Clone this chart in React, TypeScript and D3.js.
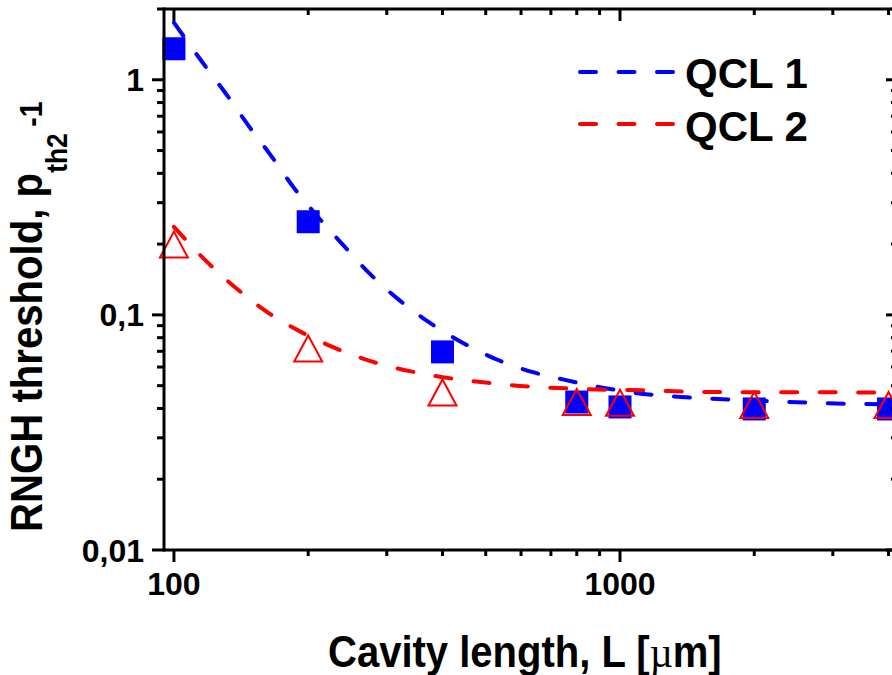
import React from "react";
import * as d3 from "d3";

// Measured points: cavity length L [µm] and RNGH threshold
const cavityLength = [100, 200, 400, 800, 1000, 2000, 4000];
const qcl1Threshold = [1.355, 0.249, 0.0696, 0.0426, 0.0406, 0.0398, 0.0398];
const qcl2Threshold = [0.199, 0.072, 0.0468, 0.0426, 0.0423, 0.0414, 0.0414];

// Fitted curves (dashed)
const qcl1FitL = [100, 115.6, 130.8, 146.5, 165.8, 185.8, 210.3, 240.5, 275.1, 319.6, 375, 444.6, 532.7, 634.8, 752.9, 920.6, 1080, 1315, 1575, 2284, 3451, 4000];
const qcl1FitV = [1.75, 1.193, 0.872, 0.643, 0.47, 0.347, 0.261, 0.1966, 0.1494, 0.1158, 0.0925, 0.076, 0.0643, 0.0572, 0.0529, 0.0489, 0.0466, 0.045, 0.0441, 0.0428, 0.0418, 0.0417];
const qcl2FitL = [100, 118, 137.7, 161.6, 191.6, 230.8, 279.4, 340, 417.9, 505.8, 621.9, 756.6, 925.5, 1132, 1511, 4000];
const qcl2FitV = [0.237, 0.1697, 0.1302, 0.103, 0.0851, 0.072, 0.0631, 0.0575, 0.0537, 0.0514, 0.0496, 0.0487, 0.048, 0.0478, 0.047, 0.0468];

const xDomain = [95, 4200];
const yDomain = [0.01, 2];
const xMajorLabels = ["100", "1000"];
const yMajorLabels = ["0,01", "0,1", "1"];
const seriesNames = ["QCL 1", "QCL 2"];

const W = 892;
const H = 675;
const left = 164;
const right = 898;
const top = 9;
const bottom = 550;

const BLUE = "#0000ff";
const RED = "#ff0000";
const FONT = "'Liberation Sans', Arial, Helvetica, sans-serif";
const DASH = "16 22.5";

export default function App() {
  const x = d3.scaleLog().domain(xDomain).range([left, right]);
  const y = d3.scaleLog().domain(yDomain).range([bottom, top]);

  const isMajor = (v: number) => Math.abs(Math.log10(v) - Math.round(Math.log10(v))) < 1e-9;
  const xTicks = x.ticks();
  const yTicks = y.ticks();
  const xMajor = xTicks.filter(isMajor);
  const yMajor = yTicks.filter(isMajor);

  const line = d3
    .line<[number, number]>()
    .x((d) => x(d[0]))
    .y((d) => y(d[1]))
    .curve(d3.curveMonotoneX);

  const fit1 = line(qcl1FitL.map((l, i) => [l, qcl1FitV[i]] as [number, number])) || "";
  const fit2 = line(qcl2FitL.map((l, i) => [l, qcl2FitV[i]] as [number, number])) || "";

  const sq = 23;
  const triW = 28;
  const triH = 26;
  const axisW = 3;

  return (
    <svg
      width={W}
      height={H}
      viewBox={`0 0 ${W} ${H}`}
      style={{ position: "absolute", left: 0, top: 0, background: "#fff" }}
      fontFamily={FONT}
    >
      <rect x={0} y={0} width={W} height={H} fill="#fff" />

      {/* QCL 1 measured points */}
      {cavityLength.map((l, i) => (
        <rect
          key={`s${i}`}
          x={x(l) - sq / 2}
          y={y(qcl1Threshold[i]) - sq / 2}
          width={sq}
          height={sq}
          fill={BLUE}
        />
      ))}
      <path d={fit1} fill="none" stroke={BLUE} strokeWidth={4} strokeDasharray={DASH} strokeLinecap="round" />

      {/* QCL 2 measured points */}
      {cavityLength.map((l, i) => {
        const cx = x(l);
        const cy = y(qcl2Threshold[i]);
        const pts = `${cx},${cy - triH / 2} ${cx + triW / 2},${cy + triH / 2} ${cx - triW / 2},${cy + triH / 2}`;
        return <polygon key={`t${i}`} points={pts} fill="none" stroke={RED} strokeWidth={2} strokeLinejoin="miter" />;
      })}
      <path d={fit2} fill="none" stroke={RED} strokeWidth={4} strokeDasharray={DASH} strokeLinecap="round" />

      {/* Frame */}
      <g stroke="#000" strokeWidth={axisW} fill="none">
        <line x1={left} x2={right} y1={top} y2={top} />
        <line x1={left} x2={right} y1={bottom} y2={bottom} />
        <line x1={left} x2={left} y1={top - 1.5} y2={bottom + 1.5} />
        <line x1={right} x2={right} y1={top - 1.5} y2={bottom + 1.5} />
      </g>

      {/* X ticks: outward at bottom, inward at top; Y ticks: outward at left, inward at right */}
      <g stroke="#000" strokeWidth={3}>
        {xTicks.map((t, i) => {
          const len = isMajor(t) ? 12 : 6;
          const px = x(t);
          return (
            <g key={`xt${i}`}>
              <line x1={px} x2={px} y1={bottom} y2={bottom + len} />
              <line x1={px} x2={px} y1={top} y2={top + len} />
            </g>
          );
        })}
        {yTicks.map((t, i) => {
          const len = isMajor(t) ? 12 : 7;
          const py = y(t);
          return (
            <g key={`yt${i}`}>
              <line x1={left - len} x2={left} y1={py} y2={py} />
              <line x1={right - len} x2={right} y1={py} y2={py} />
            </g>
          );
        })}
      </g>

      {/* Tick labels */}
      <g fontWeight="bold" fontSize={32} fill="#000">
        {xMajor.map((t, i) => (
          <text key={`xl${i}`} x={x(t)} y={595} textAnchor="middle">
            {xMajorLabels[i]}
          </text>
        ))}
        {yMajor.map((t, i) => (
          <text key={`yl${i}`} x={144} y={y(t)} dy="0.36em" textAnchor="end">
            {yMajorLabels[i]}
          </text>
        ))}
      </g>

      {/* Axis titles */}
      <text
        transform="translate(328,667) scale(0.91,1)"
        fontWeight="bold"
        fontSize={44}
        fill="#000"
      >
        Cavity length, L [<tspan fontFamily="'Liberation Serif', 'DejaVu Serif', serif" fontWeight="normal">µ</tspan>m]
      </text>
      <text
        transform="translate(42,532) rotate(-90) scale(0.913,1)"
        fontWeight="bold"
        fontSize={44}
        fill="#000"
      >
        RNGH threshold, p
        <tspan fontSize={29} dy={25}>th2</tspan>
        <tspan fontSize={31} dy={-25} dx={7}>-1</tspan>
      </text>

      {/* Legend */}
      <g>
        <line x1={580} x2={676} y1={72} y2={72} stroke={BLUE} strokeWidth={4} strokeDasharray={DASH} strokeLinecap="round" />
        <line x1={580} x2={676} y1={124} y2={124} stroke={RED} strokeWidth={4} strokeDasharray={DASH} strokeLinecap="round" />
        <text x={685} y={88} fontWeight="bold" fontSize={42} fill="#000">
          {seriesNames[0]}
        </text>
        <text x={685} y={141} fontWeight="bold" fontSize={42} fill="#000">
          {seriesNames[1]}
        </text>
      </g>
    </svg>
  );
}
